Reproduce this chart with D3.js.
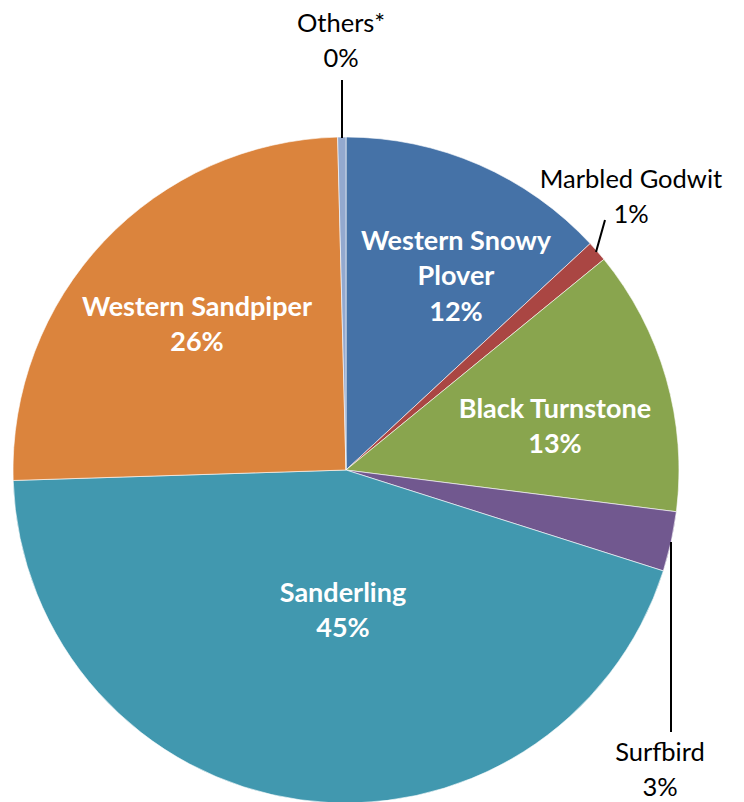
<!DOCTYPE html>
<html><head><meta charset="utf-8">
<script src="https://cdn.jsdelivr.net/npm/d3@7"></script>
<style>html,body{margin:0;padding:0;background:#fff;}svg{display:block;}</style>
</head><body>
<svg id="chart" width="744" height="802"></svg>
<script>
const categories = ["Western Snowy Plover", "Marbled Godwit", "Black Turnstone", "Surfbird", "Sanderling", "Western Sandpiper", "Others*"];
const values = [13.1, 1.0, 12.9, 2.9, 44.6, 25.1, 0.4];
const pctLabels = ["12%", "1%", "13%", "3%", "45%", "26%", "0%"];
const colors = ["#4572A7", "#AA4643", "#89A54E", "#71588F", "#4198AF", "#DB843D", "#93A9CF"];

const svg = d3.select("#chart");
const cx = 346, cy = 470, R = 333;
const font = "Lato, 'Open Sans', sans-serif";
const g = svg.append("g").attr("transform", `translate(${cx},${cy})`);

const pie = d3.pie().sort(null).value(d => d)(values);
const arc = d3.arc().innerRadius(0).outerRadius(R);

g.selectAll("path").data(pie).join("path")
  .attr("d", arc)
  .attr("fill", (d, i) => colors[i])
  .attr("stroke", "#fff").attr("stroke-width", 0.6);

// inside labels
const inside = {
  0: {x: 456, y: 240, lines: ["Western Snowy", "Plover"]},
  2: {x: 555, y: 408, lines: ["Black Turnstone"]},
  4: {x: 343, y: 592, lines: ["Sanderling"]},
  5: {x: 197, y: 306, lines: ["Western Sandpiper"]}
};
Object.keys(inside).forEach(k => {
  const o = inside[k];
  const t = svg.append("text").attr("text-anchor", "middle")
    .attr("font-family", font).attr("font-weight", "bold").attr("font-size", 27)
    .attr("fill", "#fff");
  const lines = o.lines.concat([pctLabels[k]]);
  lines.forEach((s, j) => {
    t.append("tspan").attr("x", o.x).attr("y", o.y + j * 35.5).attr("dy", "0.36em").text(s);
  });
});

// outside labels
const outside = {
  6: {x: 341, y: 22.5, line: [[342, 80], [342, 138]]},
  1: {x: 631, y: 179, line: [[605, 220], [596, 252]]},
  3: {x: 660, y: 752, line: [[671, 542], [671, 732]]}
};
Object.keys(outside).forEach(k => {
  const o = outside[k];
  svg.append("line").attr("x1", o.line[0][0]).attr("y1", o.line[0][1])
    .attr("x2", o.line[1][0]).attr("y2", o.line[1][1])
    .attr("stroke", "#000").attr("stroke-width", 2);
  const t = svg.append("text").attr("text-anchor", "middle")
    .attr("font-family", font).attr("font-size", 25.5).attr("fill", "#000");
  [categories[k], pctLabels[k]].forEach((s, j) => {
    t.append("tspan").attr("x", o.x).attr("y", o.y + j * 35).attr("dy", "0.36em").text(s);
  });
});
</script>
</body></html>
